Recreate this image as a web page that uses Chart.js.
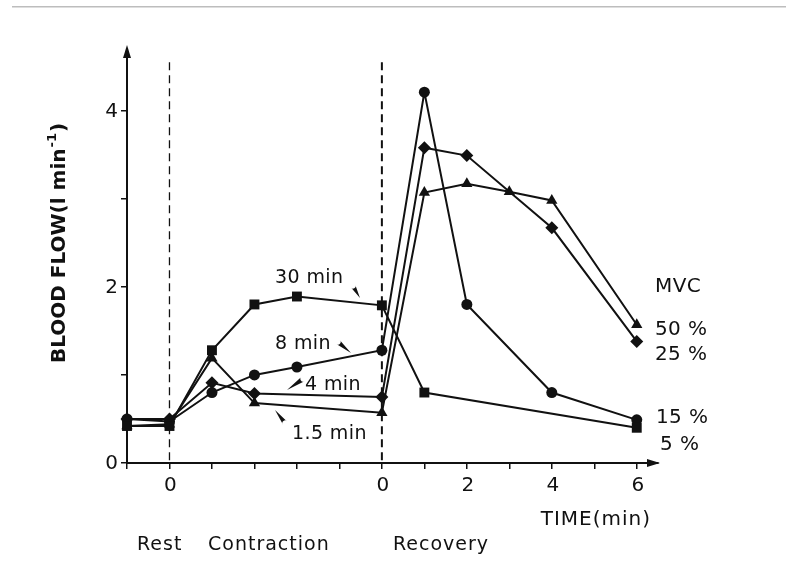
<!DOCTYPE html>
<html>
<head>
<meta charset="utf-8">
<script src="https://cdn.jsdelivr.net/npm/chart.js@4.4.1/dist/chart.umd.min.js"></script>
<style>
  html, body { margin: 0; padding: 0; background: #fff; }
  #wrap { width: 786px; height: 567px; }
</style>
</head>
<body>
<div id="wrap"><canvas id="flowChart" width="786" height="567"></canvas></div>
<script>
// x units: rest = -1, contraction runs 0..5, recovery minute t sits at 5 + t
const squareX = [-1, 0, 1, 2, 3, 5, 6, 11];          // 5 % MVC, 30 min
const squareY = [0.42, 0.42, 1.28, 1.80, 1.89, 1.79, 0.80, 0.40];

const circleX = [-1, 0, 1, 2, 3, 5, 6, 7, 9, 11];     // 15 % MVC, 8 min
const circleY = [0.50, 0.47, 0.80, 1.00, 1.09, 1.28, 4.21, 1.80, 0.80, 0.49];

const diamondX = [-1, 0, 1, 2, 5, 6, 7, 9, 11];       // 25 % MVC, 4 min
const diamondY = [0.50, 0.50, 0.91, 0.79, 0.75, 3.58, 3.49, 2.67, 1.38];

const triangleX = [-1, 0, 1, 2, 5, 6, 7, 8, 9, 11];   // 50 % MVC, 1.5 min
const triangleY = [0.42, 0.44, 1.19, 0.68, 0.57, 3.07, 3.17, 3.08, 2.98, 1.57];

const xTickPos = [-1, 0, 1, 2, 3, 4, 5, 6, 7, 8, 9, 10, 11];
const xTickText = { 0: '0', 5: '0', 7: '2', 9: '4', 11: '6' };
const yTickPos = [0, 1, 2, 3, 4];
const yTickText = { 0: '0', 2: '2', 4: '4' };
const phaseLines = [0, 5];

const INK = '#111';
const FONT = '"DejaVu Sans", sans-serif';

function series(xs, ys, style, r) {
    return {
        data: xs.map((x, i) => ({ x: x, y: ys[i] })),
        borderColor: INK,
        backgroundColor: INK,
        borderWidth: 2,
        pointStyle: style,
        pointRadius: r,
        pointBorderWidth: 0,
        tension: 0,
        clip: false
    };
}

// little tapered pointer: wide end at (x1,y1), sharp end at (x2,y2)
function wedge(ctx, x1, y1, x2, y2, w) {
    const dx = x2 - x1, dy = y2 - y1;
    const len = Math.hypot(dx, dy);
    const nx = -dy / len * w, ny = dx / len * w;
    ctx.beginPath();
    ctx.moveTo(x1 + nx, y1 + ny);
    ctx.lineTo(x2, y2);
    ctx.lineTo(x1 - nx, y1 - ny);
    ctx.arc(x1, y1, w, Math.atan2(-ny, -nx), Math.atan2(ny, nx));
    ctx.closePath();
    ctx.fill();
}

const decorPlugin = {
    id: 'decor',
    beforeDatasetsDraw(chart) {
        const ctx = chart.ctx;
        const xs = chart.scales.x, ys = chart.scales.y;
        ctx.save();
        ctx.strokeStyle = INK;
        // dashed phase boundaries
        phaseLines.forEach((p, i) => {
            const px = xs.getPixelForValue(p);
            ctx.lineWidth = i === 0 ? 1.3 : 2;
            ctx.setLineDash([8, 5]);
            ctx.beginPath();
            ctx.moveTo(px, ys.getPixelForValue(4.55));
            ctx.lineTo(px, ys.getPixelForValue(0));
            ctx.stroke();
        });
        ctx.restore();
    },
    afterDraw(chart) {
        const ctx = chart.ctx;
        const area = chart.chartArea;
        const xs = chart.scales.x, ys = chart.scales.y;
        ctx.save();

        // scan edge line at the top
        ctx.fillStyle = '#bdbdbd';
        ctx.fillRect(12, 6, 774, 1.5);
        ctx.fillStyle = INK;

        // axis arrowheads
        ctx.beginPath();
        ctx.moveTo(area.left, area.top - 4);
        ctx.lineTo(area.left - 4, area.top + 9);
        ctx.lineTo(area.left + 4, area.top + 9);
        ctx.closePath();
        ctx.fill();
        ctx.beginPath();
        ctx.moveTo(area.right + 2, area.bottom);
        ctx.lineTo(area.right - 11, area.bottom - 4);
        ctx.lineTo(area.right - 11, area.bottom + 4);
        ctx.closePath();
        ctx.fill();

        // tick labels
        ctx.font = '20px ' + FONT;
        ctx.textAlign = 'right';
        ctx.textBaseline = 'middle';
        yTickPos.forEach(v => {
            if (yTickText[v]) ctx.fillText(yTickText[v], area.left - 9, ys.getPixelForValue(v) + 1);
        });
        ctx.textAlign = 'center';
        ctx.textBaseline = 'top';
        xTickPos.forEach(v => {
            if (xTickText[v]) ctx.fillText(xTickText[v], xs.getPixelForValue(v) + 1, area.bottom + 13);
        });

        // y axis title, reading upwards
        ctx.save();
        ctx.translate(65, 363);
        ctx.rotate(-Math.PI / 2);
        ctx.textAlign = 'left';
        ctx.textBaseline = 'alphabetic';
        ctx.font = 'bold 20px ' + FONT;
        const main = 'BLOOD FLOW(l min';
        const wMain = ctx.measureText(main).width;
        ctx.fillText(main, 0, 0);
        ctx.font = 'bold 13px ' + FONT;
        ctx.fillText('-1', wMain + 1, -9);
        const wSup = ctx.measureText('-1').width;
        ctx.font = 'bold 20px ' + FONT;
        ctx.fillText(')', wMain + wSup + 2, 0);
        ctx.restore();

        // curve labels
        ctx.font = '19px ' + FONT;
        ctx.letterSpacing = '0.4px';
        ctx.textAlign = 'left';
        ctx.textBaseline = 'alphabetic';
        ctx.fillText('30 min', 275, 283);
        ctx.fillText('8 min', 275, 349);
        ctx.fillText('4 min', 305, 390);
        ctx.fillText('1.5 min', 292, 439);
        wedge(ctx, 353, 286, 360, 298, 2.6);
        wedge(ctx, 338, 342, 351, 353, 2.6);
        wedge(ctx, 303, 379, 287, 390, 2.6);
        wedge(ctx, 285, 423, 275, 410, 2.6);

        // MVC legend at the right
        ctx.font = '20px ' + FONT;
        ctx.fillText('MVC', 655, 292);
        ctx.fillText('50 %', 655, 335);
        ctx.fillText('25 %', 655, 360);
        ctx.fillText('15 %', 656, 423);
        ctx.fillText('5 %', 660, 450);

        // x axis title and phases
        ctx.textAlign = 'right';
        ctx.letterSpacing = '1px';
        ctx.fillText('TIME(min)', 651, 525);
        ctx.font = '19px ' + FONT;
        ctx.textAlign = 'left';
        ctx.fillText('Rest', 137, 550);
        ctx.fillText('Contraction', 208, 550);
        ctx.fillText('Recovery', 393, 550);
        ctx.restore();
    }
};

new Chart(document.getElementById('flowChart'), {
    type: 'line',
    data: {
        datasets: [
            series(squareX, squareY, 'rect', 7),
            series(circleX, circleY, 'circle', 5.5),
            series(diamondX, diamondY, 'rectRot', 6.5),
            series(triangleX, triangleY, 'triangle', 6.5)
        ]
    },
    options: {
        responsive: false,
        animation: false,
        devicePixelRatio: 1,
        layout: { padding: { left: 127, right: 128, top: 49, bottom: 104 } },
        plugins: { legend: { display: false }, tooltip: { enabled: false } },
        scales: {
            x: {
                type: 'linear',
                min: -1,
                max: 11.5,
                afterFit: (s) => { s.height = 0; },
                afterBuildTicks: (s) => { s.ticks = xTickPos.map(v => ({ value: v })); },
                border: { color: INK, width: 2 },
                grid: { drawOnChartArea: false, color: INK, lineWidth: 1.5, tickLength: 6 },
                ticks: { display: false }
            },
            y: {
                type: 'linear',
                min: 0,
                max: 4.7,
                afterFit: (s) => { s.width = 0; },
                afterBuildTicks: (s) => { s.ticks = yTickPos.map(v => ({ value: v })); },
                border: { color: INK, width: 2 },
                grid: { drawOnChartArea: false, color: INK, lineWidth: 1.5, tickLength: 6 },
                ticks: { display: false }
            }
        }
    },
    plugins: [decorPlugin]
});
</script>
</body>
</html>
